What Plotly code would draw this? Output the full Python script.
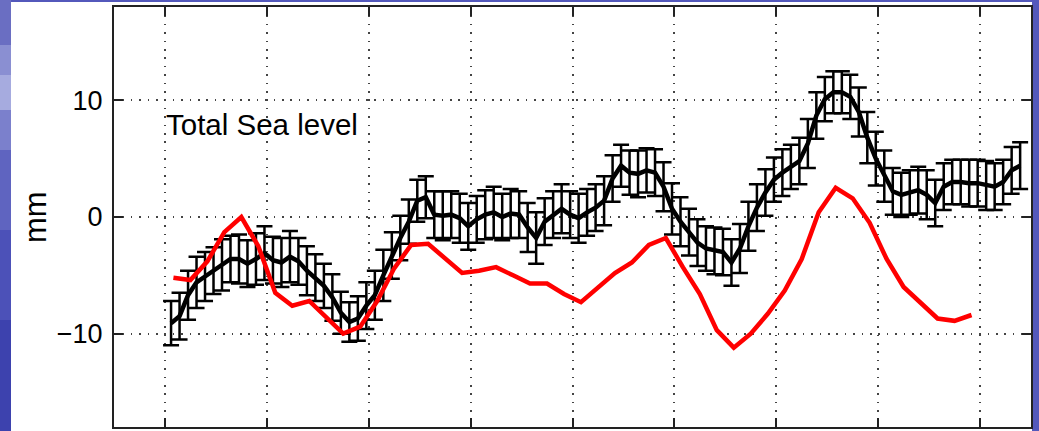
import plotly.graph_objects as go

# Monthly total sea level (mm) with 1-sigma error, starting early 1993
sea_start = 1993.06
sea_level = [
    -9.1, -8.5, -6.7, -5.6, -5.1, -4.6, -4.1, -3.6, -3.6, -4.0,
    -3.6, -3.1, -3.7, -3.9, -3.4, -3.8, -4.6, -5.2, -5.9, -6.9,
    -8.2, -9.0, -8.7, -7.6, -6.7, -5.0, -3.3, -1.8, -0.4, 1.4,
    1.7, 0.2, 0.1, 0.2, -0.1, -0.8, -0.2, 0.2, 0.4, 0.0,
    0.3, 0.2, -0.9, -1.8, -0.4, 0.2, 0.7, 0.2, -0.1, 0.4,
    0.8, 1.4, 3.3, 4.4, 3.8, 3.7, 4.0, 3.8, 2.6, 0.7,
    -0.4, -1.3, -2.2, -2.7, -2.9, -3.0, -3.9, -2.7, -0.8, 0.8,
    2.1, 3.2, 3.8, 4.3, 4.8, 6.3, 8.7, 10.1, 10.7, 10.7,
    10.3, 9.0, 6.8, 5.0, 3.5, 2.2, 1.9, 2.1, 2.3, 1.9,
    1.2, 2.6, 3.0, 3.0, 2.9, 2.9, 2.7, 2.6, 3.0, 4.0,
    4.4,
]
sea_err = [
    1.9, 2.0, 2.1, 2.2, 2.1, 2.0, 2.2, 2.0, 2.1, 2.0,
    2.2, 2.3, 2.0, 2.1, 2.2, 2.0, 2.1, 2.0, 1.9, 2.0,
    1.8, 1.7, 1.9, 2.0, 2.1, 2.2, 2.0, 1.9, 1.9, 1.8,
    1.8, 2.0, 2.1, 2.0, 2.1, 2.0, 2.0, 2.1, 2.2, 2.0,
    2.1, 2.0, 2.1, 2.2, 2.0, 2.0, 2.1, 2.0, 2.1, 2.0,
    2.0, 2.1, 2.0, 1.8, 1.9, 2.0, 1.9, 2.0, 2.1, 2.2,
    2.1, 2.0, 2.0, 1.9, 2.0, 2.0, 2.0, 2.1, 2.1, 2.0,
    2.0, 1.9, 2.0, 1.9, 2.0, 2.1, 2.0, 1.9, 1.8, 1.8,
    1.9, 2.1, 2.2, 2.3, 2.2, 2.0, 1.9, 1.9, 2.0, 2.1,
    2.0, 2.0, 1.9, 1.9, 2.0, 2.0, 2.1, 2.0, 1.9, 2.0,
    2.0,
]
sea_time = [sea_start + i / 12 for i in range(len(sea_level))]

# Bimonthly model sea level (mm)
model_start = 1993.083
model_level = [
    -5.2, -5.4, -3.8, -1.3, 0.0, -2.5, -6.5, -7.6, -7.2, -8.6,
    -10.0, -9.4, -7.2, -4.4, -2.4, -2.3, -3.6, -4.8, -4.6, -4.3,
    -5.0, -5.7, -5.7, -6.6, -7.3, -6.0, -4.8, -3.9, -2.4, -1.8,
    -4.3, -6.6, -9.7, -11.2, -10.0, -8.3, -6.3, -3.6, 0.4, 2.5,
    1.6, -0.5, -3.6, -6.0, -7.4, -8.7, -8.9, -8.4,
]
model_time = [model_start + k / 6 for k in range(len(model_level))]

year_ticks = list(range(1993, 2002))
mm_ticks = [-10, 0, 10]
mm_labels = ["\u221210", "0", "10"]

FONT = "Liberation Sans, Arial, Helvetica, sans-serif"

fig = go.Figure()

fig.add_trace(go.Scatter(
    x=sea_time, y=sea_level, mode="lines",
    line=dict(color="black", width=4.5),
    error_y=dict(type="data", array=sea_err, visible=True,
                 color="black", thickness=2.5, width=8),
    showlegend=False, hoverinfo="skip",
))
fig.add_trace(go.Scatter(
    x=model_time, y=model_level, mode="lines",
    line=dict(color="#ff0000", width=4.5),
    showlegend=False, hoverinfo="skip",
))

grid_common = dict(
    showgrid=True, gridcolor="#444444", gridwidth=1.6, griddash="1.6px,6.8px",
    showline=True, linecolor="#222222", linewidth=2, mirror="ticks",
    ticks="inside", ticklen=9, tickwidth=1.8, tickcolor="#222222",
    zeroline=False,
)

fig.update_layout(
    width=1039, height=431,
    margin=dict(l=114, r=8, t=7, b=4),
    paper_bgcolor="#5358bb",
    plot_bgcolor="white",
    font=dict(family=FONT, color="black"),
    xaxis=dict(range=[1992.5, 2001.5], tickvals=year_ticks,
               showticklabels=False, **grid_common),
    yaxis=dict(range=[-18, 18], tickvals=mm_ticks, ticktext=mm_labels,
               tickfont=dict(size=27, family=FONT, color="black"),
               ticklabelstandoff=4, **grid_common),
)

# slide background: white panel on a blue textured border
W, L, R, T, B = 1039, 114, 8, 7, 4
pw, ph = W - L - R, 431 - T - B
def px_x(p):
    return (p - L) / pw
def px_y(p):
    return (431 - B - p) / ph

bands = [
    (0, 45, "#6a6ec2"), (45, 75, "#8a8fd2"), (75, 110, "#a6abdf"),
    (110, 150, "#7b80cc"), (150, 230, "#5f64c0"), (230, 320, "#4c51b8"),
    (320, 431, "#3d42ae"),
]
for y0, y1, col in bands:
    fig.add_shape(type="rect", xref="paper", yref="paper", layer="below",
                  x0=px_x(0), x1=px_x(11), y0=px_y(y1), y1=px_y(y0),
                  fillcolor=col, line_width=0)
fig.add_shape(type="rect", xref="paper", yref="paper", layer="below",
              x0=px_x(11), x1=px_x(1032), y0=px_y(431), y1=px_y(2),
              fillcolor="white", line_width=0)

fig.add_annotation(text="Total Sea level", xref="x", yref="y",
                   x=1992.99, y=7.9, xanchor="left", yanchor="middle",
                   showarrow=False, font=dict(size=29.5, family=FONT, color="black"))
fig.add_annotation(text="mm", xref="paper", yref="y",
                   x=px_x(35), y=0, xanchor="center", yanchor="middle",
                   textangle=-90, showarrow=False,
                   font=dict(size=31, family=FONT, color="black"))

fig.write_html("out.html")
